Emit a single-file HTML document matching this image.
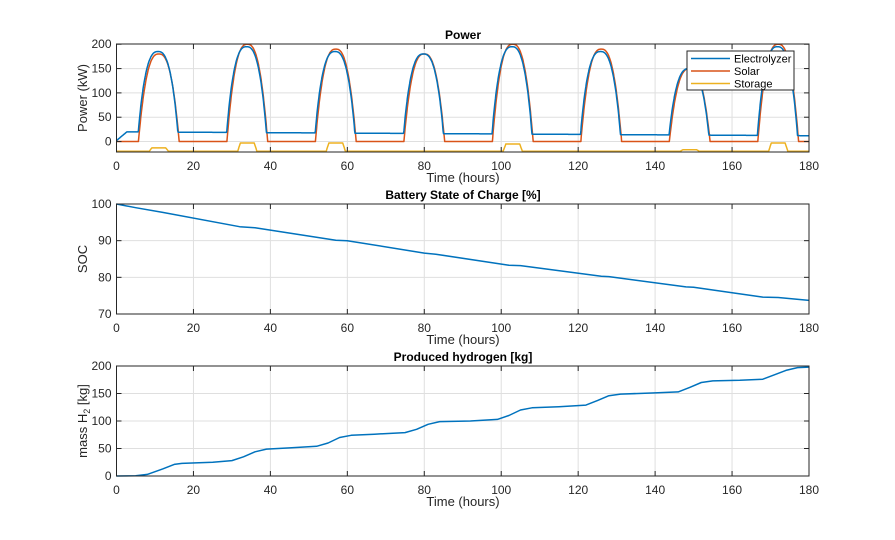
<!DOCTYPE html>
<html><head><meta charset="utf-8"><style>
body{margin:0;background:#fff}
svg{display:block;font-family:"Liberation Sans",sans-serif}
.t{font-size:12px;fill:#262626}
.ti{font-size:12px;font-weight:bold;fill:#000}
.lb{font-size:13px;fill:#262626}
.g{stroke:#dfdfdf;stroke-width:1}
</style></head><body>
<svg id="s" width="895" height="540" viewBox="0 0 895 540">
<rect width="895" height="540" fill="#fff"/>
<g id="grid"></g>
<g id="lines" fill="none" stroke-width="1.5" stroke-linejoin="round"></g>
<g id="axes" fill="none" stroke="#262626" stroke-width="1"></g>
<g id="txt"></g>
<text class="ti" x="463" y="39" text-anchor="middle">Power</text>
<text class="ti" x="463" y="199" text-anchor="middle">Battery State of Charge [%]</text>
<text class="ti" x="463" y="361" text-anchor="middle">Produced hydrogen [kg]</text>
<text class="lb" x="463" y="182" text-anchor="middle">Time (hours)</text>
<text class="lb" x="463" y="344" text-anchor="middle">Time (hours)</text>
<text class="lb" x="463" y="506" text-anchor="middle">Time (hours)</text>
<text class="lb" transform="translate(87,98) rotate(-90)" text-anchor="middle">Power (kW)</text>
<text class="lb" transform="translate(87,259) rotate(-90)" text-anchor="middle">SOC</text>
<text class="lb" transform="translate(87,421) rotate(-90)" text-anchor="middle">mass  H<tspan font-size="9" dy="3">2</tspan><tspan dy="-3">  [kg]</tspan></text>
<g>
<rect x="687" y="51" width="107" height="39" fill="#fff" stroke="#262626"/>
<line x1="691" y1="58.5" x2="730" y2="58.5" stroke="#0072bd" stroke-width="1.5"/>
<line x1="691" y1="71" x2="730" y2="71" stroke="#d95319" stroke-width="1.5"/>
<line x1="691" y1="83.5" x2="730" y2="83.5" stroke="#edb120" stroke-width="1.5"/>
<text x="734" y="62.5" font-size="11" fill="#000">Electrolyzer</text>
<text x="734" y="75" font-size="11" fill="#000">Solar</text>
<text x="734" y="87.5" font-size="11" fill="#000">Storage</text>
</g>
</svg>
<script>
var NS="http://www.w3.org/2000/svg";
function el(p,n,a,t){var e=document.createElementNS(NS,n);for(var k in a)e.setAttribute(k,a[k]);if(t!=null)e.textContent=t;document.getElementById(p).appendChild(e);return e;}
var X0=116.5,X1=809;function sx(t){return X0+t/180*(X1-X0);}
var axes=[{y0:44,y1:152,min:-21.5,max:200.5,ticks:[0,50,100,150,200]},
{y0:204,y1:314,min:70,max:100,ticks:[70,80,90,100]},
{y0:366,y1:476,min:0,max:200,ticks:[0,50,100,150,200]}];
function sy(a,v){return a.y1-(v-a.min)/(a.max-a.min)*(a.y1-a.y0);}
axes.forEach(function(a){
 for(var t=0;t<=180;t+=20){var x=sx(t);
  if(t>0&&t<180)el("grid","line",{x1:x,x2:x,y1:a.y0,y2:a.y1,class:"g"});
  el("axes","line",{x1:x,x2:x,y1:a.y1,y2:a.y1-5});el("axes","line",{x1:x,x2:x,y1:a.y0,y2:a.y0+5});
  el("txt","text",{x:x,y:a.y1+18,class:"t","text-anchor":"middle"},String(t));}
 a.ticks.forEach(function(v){var y=sy(a,v);
  if(y>a.y0+1&&y<a.y1-1)el("grid","line",{x1:X0,x2:X1,y1:y,y2:y,class:"g"});
  el("axes","line",{x1:X0,x2:X0+5,y1:y,y2:y});el("axes","line",{x1:X1,x2:X1-5,y1:y,y2:y});
  el("txt","text",{x:X0-5,y:y+4,class:"t","text-anchor":"end"},String(v));});
 el("axes","rect",{x:X0,y:a.y0,width:X1-X0,height:a.y1-a.y0});
});
var C=[11,34,57,80,103,126,149,172],SP=[180,200,190,180,200,190,150,200],EP=[185,195,185,180,195,185,150,195],
ST=[-13,-3,-3,-20,-5,-20,-17,-3];
function sh(t,c){var d=Math.abs(t-c)/5.3;return d>=1?0:1-Math.pow(d,2.6);}
var a=axes[0],pe="",ps="",pst="";
for(var i=0;i<=1800;i++){var t=i/10,s=0,e=0,st=-20;
 for(var k=0;k<8;k++){s+=SP[k]*sh(t,C[k]);e+=EP[k]*Math.pow(sh(t,C[k]-0.2),0.9);
  var d=Math.abs(t-C[k]);if(d<2.5)st=Math.max(st,ST[k]+(d>1.8?(d-1.8)/0.7*(-20-ST[k]):0));}
 var base=(20-8*t/180)*Math.min(1,t/3+0.1);e=Math.max(base,e);
 var c=i?"L":"M";pe+=c+sx(t).toFixed(1)+","+sy(a,e).toFixed(1);ps+=c+sx(t).toFixed(1)+","+sy(a,s).toFixed(1);pst+=c+sx(t).toFixed(1)+","+sy(a,st).toFixed(1);}
el("lines","path",{d:pst,stroke:"#edb120"});
el("lines","path",{d:ps,stroke:"#d95319"});
el("lines","path",{d:pe,stroke:"#0072bd"});
function pl(ax,pts){var d="";pts.forEach(function(p,i){d+=(i?"L":"M")+sx(p[0]).toFixed(1)+","+sy(ax,p[1]).toFixed(1);});el("lines","path",{d:d,stroke:"#0072bd"});}
pl(axes[1],[[0,100],[5,99],[12,97.7],[32,93.8],[36,93.5],[57,90.1],[60,90],[80,86.6],[83,86.3],[102,83.3],[105,83.2],[126,80.3],[128,80.2],[148,77.4],[150,77.3],[168,74.6],[172,74.5],[180,73.7]]);
pl(axes[2],[[0,0],[5,0.5],[8,3],[12,13],[15,21],[17,23],[25,25],[30,28],[33,35],[36,44],[39,49],[45,51],[52,54],[55,60],[58,70],[61,74],[67,76],[75,79],[78,85],[81,94],[84,99],[92,100],[99,103],[102,110],[105,120],[108,124],[115,126],[122,129],[125,137],[128,146],[131,149],[140,151],[146,153],[149,161],[152,170],[155,173],[162,174],[168,176],[171,184],[174,192],[177,197],[180,198]]);
</script>
</body></html>
